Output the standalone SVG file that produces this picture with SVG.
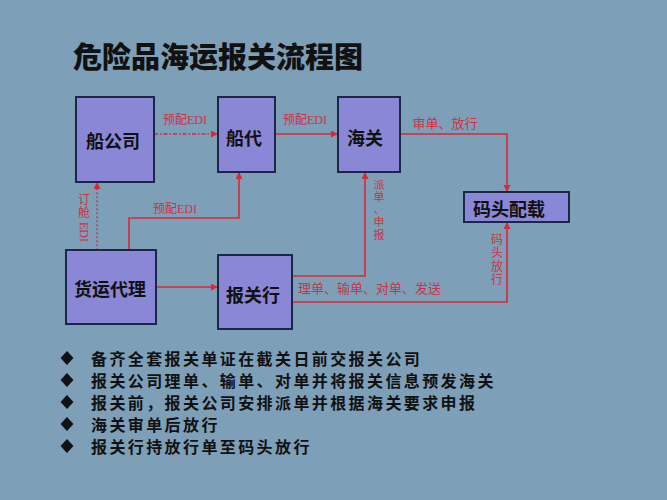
<svg xmlns="http://www.w3.org/2000/svg" width="667" height="500" viewBox="0 0 667 500">
<defs>
<style>
.bg{fill:#7d9fb8}
.node rect{fill:#8a87d6;stroke:#1c2646;stroke-width:2}
.node text{font-family:"Noto Sans CJK SC","Liberation Sans",sans-serif;font-weight:bold;font-size:18px;fill:#111;dominant-baseline:central}
.conn path{fill:none;stroke:#d8283a;stroke-width:1.6}
.lbl{font-family:"Liberation Serif","Noto Sans CJK SC",serif;font-size:12px;fill:#cc3344;dominant-baseline:central}
.vl{font-size:11px}
.title{font-family:"Noto Sans CJK SC","Liberation Sans",sans-serif;font-weight:900;font-size:29px;fill:#111;dominant-baseline:central}
.bul{font-family:"Noto Sans CJK SC","Liberation Sans",sans-serif;font-weight:bold;font-size:16px;letter-spacing:2.4px;fill:#111;dominant-baseline:central}
.dia{fill:#111}
</style>
<marker id="arr" markerUnits="userSpaceOnUse" markerWidth="8" markerHeight="8" refX="7" refY="3.5" orient="auto">
<path d="M0,0 L7,3.5 L0,7 z" fill="#d8283a"/>
</marker>
</defs>
<rect class="bg" x="0" y="0" width="667" height="500"/>
<text class="title" x="73" y="55">危险品海运报关流程图</text>

<g class="conn">
<path d="M154,134 H218" stroke-dasharray="4 2 1.5 2" marker-end="url(#arr)"/>
<path d="M275,134 H338" marker-end="url(#arr)"/>
<path d="M400,134 H507 V192" marker-end="url(#arr)"/>
<path d="M97,250 V182" stroke-dasharray="1.5 2.5" marker-end="url(#arr)"/>
<path d="M129,250 V218 H239 V172" marker-end="url(#arr)"/>
<path d="M156,287 H218" marker-end="url(#arr)"/>
<path d="M292,276 H365 V172" marker-end="url(#arr)"/>
<path d="M292,302 H507 V222" marker-end="url(#arr)"/>
</g>

<g id="labels">
<text class="lbl" x="185" y="120" text-anchor="middle">预配EDI</text>
<text class="lbl" x="305" y="120" text-anchor="middle">预配EDI</text>
<text class="lbl" x="445" y="123" text-anchor="middle" style="font-size:13px">审单、放行</text>
<text class="lbl" x="175" y="209" text-anchor="middle">预配EDI</text>
<text class="lbl" x="298" y="288" style="font-size:13px">理单、输单、对单、发送</text>
<g text-anchor="middle">
<text class="lbl" x="84" y="200">订</text>
<text class="lbl" x="84" y="213">舱</text>
<text class="lbl" x="84" y="232" transform="rotate(90 84 232)">EDI</text>
<text class="lbl vl" x="379" y="185">派</text>
<text class="lbl vl" x="379" y="197">单</text>
<text class="lbl vl" x="379" y="209">、</text>
<text class="lbl vl" x="379" y="222">申</text>
<text class="lbl vl" x="379" y="235">报</text>
<text class="lbl" x="497" y="240">码</text>
<text class="lbl" x="497" y="253">头</text>
<text class="lbl" x="497" y="267">放</text>
<text class="lbl" x="497" y="280">行</text>
</g>
</g>

<g id="n-chuangongsi" class="node"><rect x="76" y="97" width="78" height="85"/><text x="113" y="140" text-anchor="middle">船公司</text></g>
<g id="n-chuandai" class="node"><rect x="218" y="97" width="57" height="75"/><text x="244" y="137" text-anchor="middle">船代</text></g>
<g id="n-haiguan" class="node"><rect x="338" y="97" width="62" height="75"/><text x="365" y="137" text-anchor="middle">海关</text></g>
<g id="n-matou" class="node"><rect x="464" y="192" width="105" height="30"/><text x="509" y="208" text-anchor="middle">码头配载</text></g>
<g id="n-huoyun" class="node"><rect x="66" y="250" width="90" height="74"/><text x="110" y="288" text-anchor="middle">货运代理</text></g>
<g id="n-baoguan" class="node"><rect x="218" y="255" width="74" height="74"/><text x="253" y="294" text-anchor="middle">报关行</text></g>

<g id="bullets">
<path class="dia" d="M67,351 L73.5,358 L67,365 L60.5,358 z"/>
<path class="dia" d="M67,373 L73.5,380 L67,387 L60.5,380 z"/>
<path class="dia" d="M67,395 L73.5,402 L67,409 L60.5,402 z"/>
<path class="dia" d="M67,417 L73.5,424 L67,431 L60.5,424 z"/>
<path class="dia" d="M67,439 L73.5,446 L67,453 L60.5,446 z"/>
<text class="bul" x="91" y="358">备齐全套报关单证在截关日前交报关公司</text>
<text class="bul" x="91" y="380">报关公司理单、输单、对单并将报关信息预发海关</text>
<text class="bul" x="91" y="402">报关前，报关公司安排派单并根据海关要求申报</text>
<text class="bul" x="91" y="424">海关审单后放行</text>
<text class="bul" x="91" y="446">报关行持放行单至码头放行</text>
</g>
</svg>
